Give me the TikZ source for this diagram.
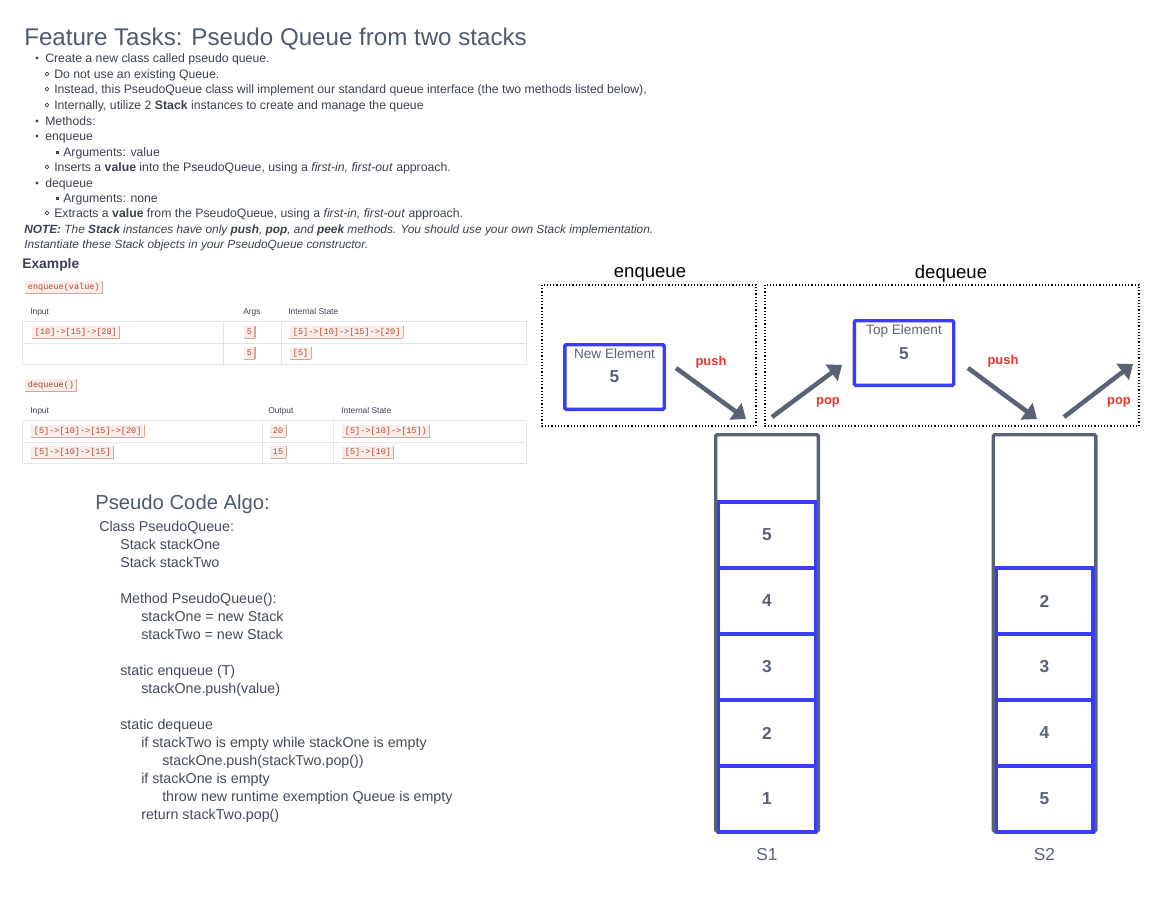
\documentclass[tikz,border=0pt]{standalone}
\usepackage{fontspec}
\setmainfont{Liberation Sans}
\newfontfamily\monofont{Liberation Mono}
\usetikzlibrary{arrows.meta}
\definecolor{titlec}{HTML}{505A6D}
\definecolor{bodyc}{HTML}{3B4151}
\definecolor{codec}{HTML}{434A5A}
\definecolor{slate}{HTML}{5A6275}
\definecolor{bluec}{HTML}{3B3DF5}
\definecolor{redc}{HTML}{E8322B}
\definecolor{badgebg}{HTML}{F8EDE9}
\definecolor{badgetx}{HTML}{B04A33}
\definecolor{badgeln}{HTML}{D4A898}
\definecolor{tableln}{HTML}{E3E5E8}
\newcommand{\cbadge}[4]{\node[codebadge] (#1) at (#2,#3) {#4};}
\tikzset{
  txt/.style={anchor=base west, inner sep=0pt},
  body/.style={txt, text=bodyc, font=\fontsize{9.2pt}{11pt}\selectfont},
  note/.style={txt, text=bodyc, font=\fontsize{8.9pt}{11pt}\selectfont\itshape},
  code/.style={txt, text=codec, font=\fontsize{10.7pt}{12pt}\selectfont},
  thead/.style={txt, text=bodyc, font=\fontsize{6.3pt}{7pt}\selectfont},
  badgeedge/.style={draw=badgeln, line width=0.8pt},
  codebadge/.style={anchor=west, fill=badgebg, text=badgetx,
    font=\monofont\fontsize{6.4pt}{7pt}\selectfont, inner xsep=2pt, inner ysep=1pt,
    text height=5.3pt, text depth=1.4pt,
    append after command={(\tikzlastnode.north east) edge[badgeedge] (\tikzlastnode.south east)
      (\tikzlastnode.south east) edge[badgeedge] (\tikzlastnode.south west)}},
  tline/.style={draw=tableln, line width=0.75pt},
  dotbox/.style={draw=black, line width=0.9pt, dash pattern=on 0.9pt off 1.5pt},
  elbox/.style={draw=bluec, line width=2.6pt, rounded corners=1pt, minimum width=74.6pt, minimum height=48.4pt, inner sep=0pt},
  ellbl/.style={text=slate, font=\fontsize{10.2pt}{12pt}\selectfont, inner sep=0pt},
  elval/.style={text=slate, font=\fontsize{13pt}{15pt}\selectfont\bfseries, inner sep=0pt},
  opl/.style={text=redc, font=\fontsize{9.7pt}{11pt}\selectfont\bfseries, inner sep=0pt},
  arr/.style={draw=slate, line width=3.4pt, -{Triangle[length=9.8pt,width=15pt]}},
  stackbox/.style={draw=slate, line width=2.6pt, rounded corners=1pt, minimum width=76.9pt, minimum height=297.4pt, inner sep=0pt},
  cell/.style={draw=bluec, line width=2.6pt, fill=white, minimum width=72.4pt, minimum height=49.5pt, inner sep=0pt, text=slate, font=\fontsize{13pt}{15pt}\selectfont\bfseries},
  slbl/.style={text=slate, font=\fontsize{13pt}{15pt}\selectfont, inner sep=0pt},
  hdr/.style={text=black, font=\fontsize{13.9pt}{16pt}\selectfont, inner sep=0pt}
}
\begin{document}
\begin{tikzpicture}[x=0.75pt,y=-0.75pt]
\useasboundingbox (0,0) rectangle (1168,908);
% ---------- title and bullet list ----------
\node[txt, text=titlec, font=\fontsize{18.1pt}{21pt}\selectfont] (title) at (24,45) {Feature Tasks: Pseudo Queue from two stacks};
\fill[bodyc] (37,58) circle (1.3pt);
\node[body] (l1) at (45,62) {Create a new class called pseudo queue.};
\draw[bodyc, line width=0.5pt] (47,74) circle (1.4pt);
\node[body] (l2) at (54,78) {Do not use an existing Queue.};
\draw[bodyc, line width=0.5pt] (47,89) circle (1.4pt);
\node[body] (l3) at (54,93) {Instead, this PseudoQueue class will implement our standard queue interface (the two methods listed below),};
\draw[bodyc, line width=0.5pt] (47,105) circle (1.4pt);
\node[body] (l4) at (54,109) {Internally, utilize 2 \textbf{Stack} instances to create and manage the queue};
\fill[bodyc] (37,121) circle (1.3pt);
\node[body] (l5) at (45,125) {Methods:};
\fill[bodyc] (37,136) circle (1.3pt);
\node[body] (l6) at (45,140) {enqueue};
\fill[bodyc] (55.5,150.5) rectangle (58.5,153.5);
\node[body] (l7) at (63,156) {Arguments: value};
\draw[bodyc, line width=0.5pt] (47,167) circle (1.4pt);
\node[body] (l8) at (54,171) {Inserts a \textbf{value} into the PseudoQueue, using a \textit{first-in, first-out} approach.};
\fill[bodyc] (37,183) circle (1.3pt);
\node[body] (l9) at (45,187) {dequeue};
\fill[bodyc] (55.5,196.5) rectangle (58.5,199.5);
\node[body] (l10) at (63,202) {Arguments: none};
\draw[bodyc, line width=0.5pt] (47,213) circle (1.4pt);
\node[body] (l11) at (54,217) {Extracts a \textbf{value} from the PseudoQueue, using a \textit{first-in, first-out} approach.};
\node[note] (l12) at (24,233) {\textbf{NOTE:} The \textbf{Stack} instances have only \textbf{push}, \textbf{pop}, and \textbf{peek} methods. You should use your own Stack implementation.};
\node[note] (l13) at (24,248) {Instantiate these Stack objects in your PseudoQueue constructor.};
% ---------- example ----------
\node[txt, text=bodyc, font=\fontsize{10.4pt}{12pt}\selectfont\bfseries] (example) at (22,268) {Example};
\cbadge{enq}{25}{287}{enqueue(value)}
\node[thead] (h1a) at (30,314) {Input};
\node[thead] (h1b) at (243,314) {Args};
\node[thead] (h1c) at (288,314) {Internal State};
\draw[tline] (22,321) rectangle (526,364);
\draw[tline] (22,343) -- (526,343);
\draw[tline] (223,321) -- (223,364);
\draw[tline] (281,321) -- (281,364);
\cbadge{r1a}{32}{332}{[10]->[15]->[20]}
\cbadge{r1b}{244}{332}{5}
\cbadge{r1c}{290}{332}{[5]->[10]->[15]->[20]}
\cbadge{r2b}{244}{353}{5}
\cbadge{r2c}{290}{353}{[5]}
\cbadge{deq}{25}{385}{dequeue()}
\node[thead] (h2a) at (30,413) {Input};
\node[thead] (h2b) at (268,413) {Output};
\node[thead] (h2c) at (341,413) {Internal State};
\draw[tline] (22,420) rectangle (526,463);
\draw[tline] (22,442) -- (526,442);
\draw[tline] (262,420) -- (262,463);
\draw[tline] (333,420) -- (333,463);
\cbadge{q1a}{31}{431}{[5]->[10]->[15]->[20]}
\cbadge{q1b}{270}{431}{20}
\cbadge{q1c}{342}{431}{[5]->[10]->[15])}
\cbadge{q2a}{31}{452}{[5]->[10]->[15]}
\cbadge{q2b}{270}{452}{15}
\cbadge{q2c}{342}{452}{[5]->[10]}
% ---------- pseudo code ----------
\node[txt, text=titlec, font=\fontsize{15.2pt}{18pt}\selectfont] (pca) at (95,509) {Pseudo Code Algo:};
\node[code] (c1) at (99,531) {Class PseudoQueue:};
\node[code] (c2) at (120,549) {Stack stackOne};
\node[code] (c3) at (120,567) {Stack stackTwo};
\node[code] (c4) at (120,603) {Method PseudoQueue():};
\node[code] (c5) at (141,621) {stackOne = new Stack};
\node[code] (c6) at (141,639) {stackTwo = new Stack};
\node[code] (c7) at (120,675) {static enqueue (T)};
\node[code] (c8) at (141,693) {stackOne.push(value)};
\node[code] (c9) at (120,729) {static dequeue};
\node[code] (c10) at (141,747) {if stackTwo is empty while stackOne is empty};
\node[code] (c11) at (162,765) {stackOne.push(stackTwo.pop())};
\node[code] (c12) at (141,783) {if stackOne is empty};
\node[code] (c13) at (162,801) {throw new runtime exemption Queue is empty};
\node[code] (c14) at (141,819) {return stackTwo.pop()};
% ---------- enqueue / dequeue panels ----------
\node[hdr] (enqh) at (650,274) {enqueue};
\node[hdr] (deqh) at (951,274) {dequeue};
\draw[dotbox] (542,285) rectangle (756,426);
\draw[dotbox] (765,285) rectangle (1139,426);
\node[elbox] (newel) at (614.5,377) {};
\node[ellbl] (newlbl) at (614.5,354) {New Element};
\node[elval] (newval) at (614.5,377) {5};
\node[elbox] (topel) at (904,353) {};
\node[ellbl] (toplbl) at (904,331) {Top Element};
\node[elval] (topval) at (904,354) {5};
\coordinate (p1s) at (676,368); \coordinate (p1e) at (746,419);
\coordinate (o1s) at (772,417); \coordinate (o1e) at (842,365);
\coordinate (p2s) at (968,368); \coordinate (p2e) at (1037,419);
\coordinate (o2s) at (1064,417); \coordinate (o2e) at (1133,364);
\draw[arr] (p1s) -- (p1e);
\draw[arr] (o1s) -- (o1e);
\draw[arr] (p2s) -- (p2e);
\draw[arr] (o2s) -- (o2e);
\node[opl] (push1) at (711,362) {push};
\node[opl] (pop1) at (828,402) {pop};
\node[opl] (push2) at (1003,361) {push};
\node[opl] (pop2) at (1119,402) {pop};
% ---------- stacks ----------
\node[stackbox] (s1) at (767,633) {};
\node[cell] (s1c5) at (767,535) {5};
\node[cell] (s1c4) at (767,601) {4};
\node[cell] (s1c3) at (767,667) {3};
\node[cell] (s1c2) at (767,733) {2};
\node[cell] (s1c1) at (767,799) {1};
\node[slbl] (s1l) at (767,855) {S1};
\node[stackbox] (s2) at (1044.5,633) {};
\node[cell] (s2c2) at (1044.5,601) {2};
\node[cell] (s2c3) at (1044.5,667) {3};
\node[cell] (s2c4) at (1044.5,733) {4};
\node[cell] (s2c5) at (1044.5,799) {5};
\node[slbl] (s2l) at (1044.5,855) {S2};
\end{tikzpicture}
\end{document}
